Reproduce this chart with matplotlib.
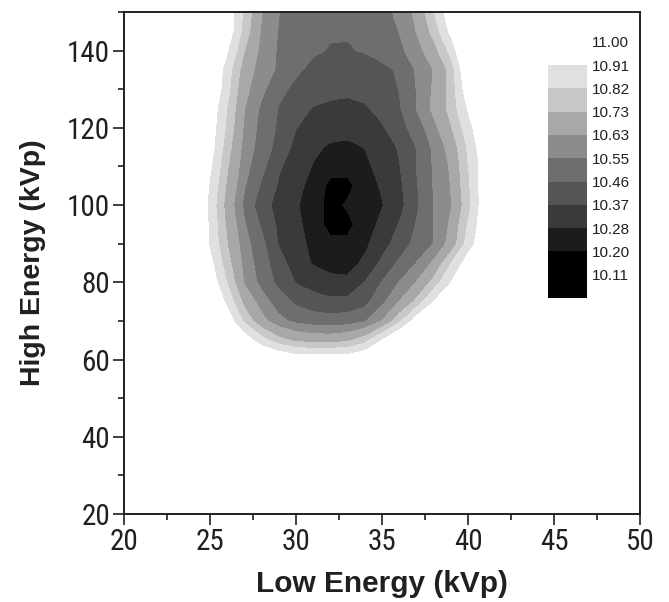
''' Mapa de contorn: energia baixa vs energia alta (kVp) '''

import matplotlib
matplotlib.use('Agg')
import matplotlib.pyplot as plt
from matplotlib import font_manager

# Eixos de la graella (kVp)
low_kvp = [24, 25, 26, 27, 28, 29, 30, 31, 32, 33, 34, 35, 36, 37, 38, 39, 40, 41, 42]
high_kvp = [60, 65, 70, 75, 80, 85, 90, 95, 100, 105, 110, 115, 120, 125, 130, 135, 140, 145, 150]

# Valors llegits del gràfic (una fila per cada valor de high_kvp)
z60 = [11.2, 11.2, 11.2, 11.2, 11.1, 11.05, 11.0, 11.0, 11.0, 11.0, 11.05, 11.1, 11.2, 11.2, 11.2, 11.2, 11.2, 11.2, 11.2]
z65 = [11.2, 11.2, 11.2, 11.0, 10.86, 10.76, 10.71, 10.69, 10.69, 10.71, 10.78, 10.93, 11.1, 11.2, 11.2, 11.2, 11.2, 11.2, 11.2]
z70 = [11.2, 11.2, 11.0, 10.80, 10.66, 10.575, 10.53, 10.51, 10.50, 10.51, 10.54, 10.632, 10.79, 10.99, 11.2, 11.2, 11.2, 11.2, 11.2]
z75 = [11.2, 11.1, 10.89, 10.70, 10.59, 10.505, 10.44, 10.405, 10.39, 10.395, 10.43, 10.53, 10.632, 10.75, 10.925, 11.1, 11.2, 11.2, 11.2]
z80 = [11.2, 11.0, 10.815, 10.62, 10.523, 10.435, 10.365, 10.335, 10.305, 10.30, 10.372, 10.465, 10.552, 10.632, 10.76, 10.92, 11.1, 11.2, 11.2]
z85 = [11.15, 10.955, 10.765, 10.603, 10.505, 10.404, 10.328, 10.272, 10.25, 10.245, 10.298, 10.388, 10.475, 10.552, 10.644, 10.815, 10.98, 11.15, 11.2]
z90 = [11.1, 10.905, 10.732, 10.584, 10.487, 10.364, 10.308, 10.26, 10.22, 10.215, 10.26, 10.333, 10.411, 10.486, 10.552, 10.663, 10.865, 11.015, 11.2]
z95 = [11.1, 10.90, 10.71, 10.558, 10.447, 10.352, 10.30, 10.245, 10.17, 10.18, 10.24, 10.30, 10.375, 10.465, 10.552, 10.643, 10.825, 11.0, 11.2]
z100 = [11.11, 10.888, 10.69, 10.532, 10.406, 10.34, 10.29, 10.234, 10.175, 10.21, 10.228, 10.275, 10.338, 10.445, 10.552, 10.623, 10.784, 11.0, 11.2]
z105 = [11.13, 10.905, 10.715, 10.557, 10.447, 10.36, 10.307, 10.25, 10.18, 10.18, 10.24, 10.29, 10.35, 10.452, 10.554, 10.632, 10.80, 10.99, 11.2]
z110 = [11.15, 10.94, 10.74, 10.582, 10.487, 10.381, 10.325, 10.275, 10.23, 10.225, 10.26, 10.312, 10.365, 10.462, 10.558, 10.64, 10.815, 10.98, 11.2]
z115 = [11.15, 10.97, 10.77, 10.60, 10.512, 10.426, 10.345, 10.295, 10.27, 10.265, 10.282, 10.327, 10.378, 10.462, 10.566, 10.663, 10.835, 11.0, 11.2]
z120 = [11.2, 10.98, 10.80, 10.615, 10.523, 10.445, 10.372, 10.335, 10.31, 10.305, 10.335, 10.36, 10.421, 10.505, 10.603, 10.72, 10.877, 11.03, 11.2]
z125 = [11.2, 11.0, 10.815, 10.632, 10.534, 10.455, 10.40, 10.365, 10.355, 10.35, 10.36, 10.396, 10.45, 10.552, 10.65, 10.76, 10.93, 11.1, 11.2]
z130 = [11.2, 11.05, 10.85, 10.655, 10.571, 10.483, 10.44, 10.41, 10.39, 10.385, 10.395, 10.42, 10.462, 10.552, 10.64, 10.76, 10.99, 11.2, 11.2]
z135 = [11.2, 11.05, 10.87, 10.68, 10.593, 10.537, 10.473, 10.44, 10.425, 10.42, 10.425, 10.44, 10.47, 10.56, 10.632, 10.76, 11.05, 11.2, 11.2]
z140 = [11.2, 11.15, 10.93, 10.732, 10.603, 10.54, 10.50, 10.47, 10.455, 10.455, 10.465, 10.49, 10.53, 10.594, 10.69, 10.85, 11.1, 11.2, 11.2]
z145 = [11.2, 11.2, 11.0, 10.78, 10.62, 10.545, 10.51, 10.485, 10.468, 10.465, 10.472, 10.505, 10.552, 10.632, 10.76, 10.95, 11.2, 11.2, 11.2]
z150 = [11.2, 11.2, 11.0, 10.80, 10.632, 10.552, 10.52, 10.5, 10.485, 10.485, 10.495, 10.52, 10.57, 10.65, 10.81, 11.0, 11.2, 11.2, 11.2]
z_vals = [z60, z65, z70, z75, z80, z85, z90, z95, z100, z105, z110, z115,
          z120, z125, z130, z135, z140, z145, z150]

# Nivells del contorn i etiquetes de la llegenda
levels = [9.9, 10.11, 10.20, 10.28, 10.37, 10.46, 10.55, 10.63, 10.73, 10.82, 10.91]
level_labels = ['10.11', '10.20', '10.28', '10.37', '10.46', '10.55',
                '10.63', '10.73', '10.82', '10.91']
top_label = '11.00'
band_colors = ['#000000', '#000000', '#1c1c1c', '#3a3a3a', '#555555', '#6e6e6e',
               '#8c8c8c', '#a8a8a8', '#c8c8c8', '#e0e0e0']

# Font estreta per a les etiquetes dels eixos, si n'hi ha alguna instal·lada
installed = {f.name for f in font_manager.fontManager.ttflist}
narrow = 'Liberation Sans'
for cand in ['Liberation Sans Narrow', 'Arial Narrow', 'Roboto Condensed', 'Open Sans Condensed']:
    if cand in installed:
        narrow = cand
        break
tick_size = 21 if narrow != 'Liberation Sans' else 19

plt.rcParams['font.family'] = ['Liberation Sans', 'DejaVu Sans']

fig = plt.figure(figsize=(6.69, 6.02), dpi=100)
ax = fig.add_axes([0.1853, 0.1462, 0.7714, 0.8339])

cf = ax.contourf(low_kvp, high_kvp, z_vals, levels=levels, colors=band_colors)

ax.set_xlim(20, 50)
ax.set_ylim(20, 150)
ax.set_xticks([20, 25, 30, 35, 40, 45, 50])
ax.set_xticks([22.5, 27.5, 32.5, 37.5, 42.5, 47.5], minor=True)
ax.set_yticks([20, 40, 60, 80, 100, 120, 140])
ax.set_yticks([30, 50, 70, 90, 110, 130, 150], minor=True)
ax.tick_params(which='both', direction='out', top=False, right=False, width=1.2, color='#231f20')
ax.tick_params(which='major', length=8, labelsize=tick_size, labelcolor='#231f20', pad=2)
ax.tick_params(which='minor', length=4.5)
for lab in ax.get_xticklabels() + ax.get_yticklabels():
    lab.set_family([narrow, 'DejaVu Sans'])
for sp in ax.spines.values():
    sp.set_linewidth(1.4)
    sp.set_color('#231f20')

ax.set_xlabel('Low Energy (kVp)', fontsize=21.5, fontweight='bold', color='#231f20')
ax.set_ylabel('High Energy (kVp)', fontsize=20.5, fontweight='bold', color='#231f20')
ax.xaxis.set_label_coords(0.5, -0.112)
ax.yaxis.set_label_coords(-0.152, 0.5)

# Llegenda de colors
cax = fig.add_axes([0.8191, 0.505, 0.0583, 0.387])
cb = fig.colorbar(cf, cax=cax, spacing='uniform', ticks=levels[1:])
cb.set_ticklabels(level_labels)
cb.outline.set_visible(False)
cax.tick_params(length=0, labelsize=11, pad=3.6, labelcolor='#231f20')
cax.text(1.128, 1.094, top_label, transform=cax.transAxes, fontsize=11,
         va='center', ha='left', color='#231f20')

plt.savefig('out.png', dpi=100)
